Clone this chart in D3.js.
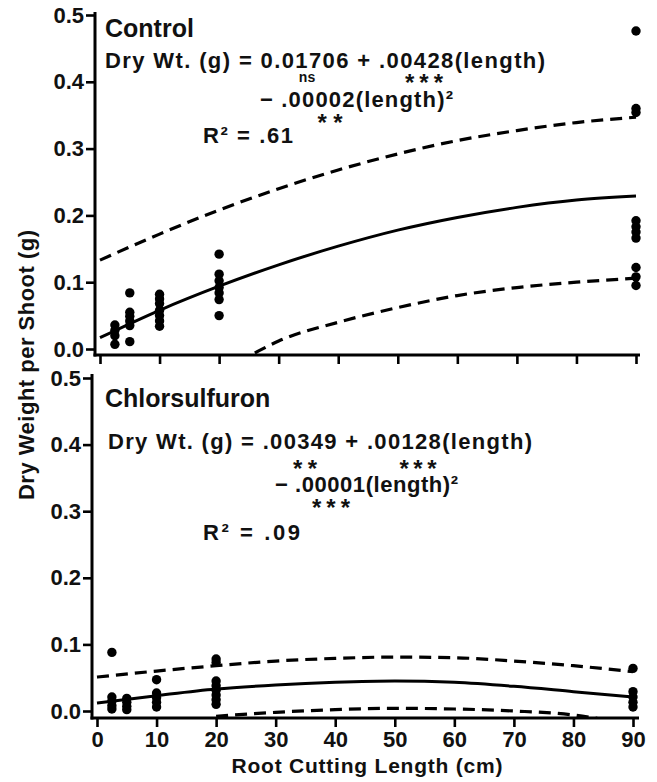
<!DOCTYPE html>
<html>
<head>
<meta charset="utf-8">
<script src="https://cdn.jsdelivr.net/npm/d3@7"></script>
<style>
  body { margin: 0; background: #fff; }
  text { font-family: "Liberation Sans", Arial, sans-serif; font-weight: bold; fill: #111; }
</style>
</head>
<body>
<script>
// root cutting lengths where shoots were weighed (cm)
const cuttingLengths = [2.5, 5, 10, 20, 90];

// dry weight per shoot (g), one array per cutting length
const controlWeights = [
    [0.036, 0.028, 0.020, 0.007],
    [0.084, 0.055, 0.049, 0.042, 0.035, 0.011],
    [0.082, 0.075, 0.068, 0.058, 0.050, 0.042, 0.034],
    [0.142, 0.112, 0.102, 0.092, 0.084, 0.074, 0.050],
    [0.476, 0.360, 0.354, 0.192, 0.183, 0.175, 0.166, 0.122, 0.108, 0.095]
];
const chlorWeights = [
    [0.088, 0.021, 0.015, 0.008, 0.003],
    [0.019, 0.013, 0.007, 0.002],
    [0.047, 0.027, 0.020, 0.013, 0.006],
    [0.078, 0.073, 0.045, 0.038, 0.031, 0.024, 0.017, 0.010],
    [0.064, 0.029, 0.021, 0.013, 0.006]
];

// fitted curve and confidence bands
const curveX = [0, 10, 20, 30, 40, 50, 60, 70, 80, 90];
const controlFit = [0.017, 0.058, 0.094, 0.126, 0.154, 0.178, 0.197, 0.212, 0.223, 0.229];
const controlUpper = [0.133, 0.172, 0.208, 0.240, 0.268, 0.292, 0.312, 0.327, 0.339, 0.347];
const controlLowerX = [26, 30, 40, 50, 60, 70, 80, 90];
const controlLower = [-0.006, 0.012, 0.040, 0.062, 0.080, 0.092, 0.100, 0.106];

const chlorFit = [0.012, 0.023, 0.033, 0.039, 0.043, 0.045, 0.043, 0.037, 0.029, 0.021];
const chlorUpper = [0.051, 0.060, 0.068, 0.075, 0.079, 0.081, 0.080, 0.075, 0.068, 0.059];
const chlorLowerX = [20, 30, 40, 50, 60, 70, 80, 84];
const chlorLower = [-0.008, -0.002, 0.002, 0.004, 0.003, 0.000, -0.006, -0.011];

const xTicks = [0, 10, 20, 30, 40, 50, 60, 70, 80, 90];
const yTicks = [0, 0.1, 0.2, 0.3, 0.4, 0.5];

const svg = d3.select("body").append("svg")
    .attr("width", 657)
    .attr("height", 782);

const panels = [
    {
        id: "control",
        x0: 100, x1: 636, yZero: 349, yTop: 15,
        axisX: 95, axisY: 355, axisTop: 12, axisRight: 640,
        weights: controlWeights, fit: controlFit, upper: controlUpper,
        lowerX: controlLowerX, lower: controlLower, showLabels: false,
        texts: [
            { t: "Control", x: 105, y: 37, size: 25 },
            { t: "Dry Wt. (g) = 0.01706 + .00428(length)", x: 105, y: 68, size: 22, len: 440 },
            { t: "ns", x: 307, y: 82, size: 14, anchor: "middle" },
            { t: "***", x: 424, y: 91, size: 24, anchor: "middle", len: 38 },
            { t: "\u2212 .00002(length)\u00b2", x: 260, y: 107, size: 22, len: 193 },
            { t: "**", x: 330, y: 131, size: 24, anchor: "middle", len: 25 },
            { t: "R\u00b2 = .61", x: 203, y: 143, size: 22, len: 90 }
        ]
    },
    {
        id: "chlor",
        x0: 97, x1: 633, yZero: 711, yTop: 378,
        axisX: 92, axisY: 718, axisTop: 374, axisRight: 639,
        weights: chlorWeights, fit: chlorFit, upper: chlorUpper,
        lowerX: chlorLowerX, lower: chlorLower, showLabels: true,
        texts: [
            { t: "Chlorsulfuron", x: 105, y: 407, size: 25 },
            { t: "Dry Wt. (g) = .00349 + .00128(length)", x: 108, y: 449, size: 22, len: 424 },
            { t: "**", x: 305, y: 477, size: 24, anchor: "middle", len: 24 },
            { t: "***", x: 418, y: 477, size: 24, anchor: "middle", len: 37 },
            { t: "\u2212 .00001(length)\u00b2", x: 275, y: 492, size: 22, len: 183 },
            { t: "***", x: 331, y: 516, size: 24, anchor: "middle", len: 38 },
            { t: "R\u00b2 = .09", x: 203, y: 540, size: 22, len: 97 }
        ]
    }
];

panels.forEach(p => {
    const x = d3.scaleLinear().domain([0, 90]).range([p.x0, p.x1]);
    const y = d3.scaleLinear().domain([0, 0.5]).range([p.yZero, p.yTop]);

    const g = svg.append("g");

    // clip so the bands stop at the axes
    g.append("clipPath").attr("id", "clip-" + p.id)
        .append("rect")
        .attr("x", p.axisX).attr("y", p.axisTop)
        .attr("width", 657 - p.axisX).attr("height", p.axisY - p.axisTop);

    const line = d3.line()
        .x(d => x(d[0]))
        .y(d => y(d[1]))
        .curve(d3.curveMonotoneX);

    const plot = g.append("g").attr("clip-path", `url(#clip-${p.id})`);

    plot.append("path")
        .datum(d3.zip(curveX, p.upper))
        .attr("d", line)
        .attr("fill", "none").attr("stroke", "#000")
        .attr("stroke-width", 3.2).attr("stroke-dasharray", "12,7");

    plot.append("path")
        .datum(d3.zip(p.lowerX, p.lower))
        .attr("d", line)
        .attr("fill", "none").attr("stroke", "#000")
        .attr("stroke-width", 3.2).attr("stroke-dasharray", "12,7");

    plot.append("path")
        .datum(d3.zip(curveX, p.fit))
        .attr("d", line)
        .attr("fill", "none").attr("stroke", "#000")
        .attr("stroke-width", 3);

    const dots = [];
    p.weights.forEach((arr, i) => arr.forEach(v => dots.push({ len: cuttingLengths[i], w: v })));

    g.selectAll("circle.dot")
        .data(dots)
        .join("circle")
        .attr("class", "dot")
        .attr("cx", d => x(d.len))
        .attr("cy", d => y(d.w))
        .attr("r", 4.7)
        .attr("fill", "#000");

    // axes
    const gy = g.append("g").attr("transform", `translate(${p.axisX},0)`)
        .call(d3.axisLeft(y).tickValues(yTicks).tickSize(9).tickSizeOuter(0)
            .tickFormat(d3.format(".1f")));
    const gx = g.append("g").attr("transform", `translate(0,${p.axisY})`)
        .call(d3.axisBottom(x).tickValues(xTicks).tickSize(9).tickSizeOuter(0)
            .tickFormat(p.showLabels ? d3.format("d") : ""));

    [gx, gy].forEach(a => {
        a.select(".domain").remove();
        a.selectAll(".tick line").attr("stroke", "#000").attr("stroke-width", 2.6);
        a.selectAll(".tick text")
            .attr("fill", "#111")
            .style("font-family", '"Liberation Sans", Arial, sans-serif')
            .style("font-weight", "bold");
    });
    gy.selectAll(".tick text").style("font-size", "22px").attr("x", -11);
    gx.selectAll(".tick text").style("font-size", "22px").attr("y", 13);

    g.append("line")
        .attr("x1", p.axisX).attr("x2", p.axisX)
        .attr("y1", p.axisTop).attr("y2", p.axisY + 1.5)
        .attr("stroke", "#000").attr("stroke-width", 3);
    g.append("line")
        .attr("x1", p.axisX - 1.5).attr("x2", p.axisRight)
        .attr("y1", p.axisY).attr("y2", p.axisY)
        .attr("stroke", "#000").attr("stroke-width", 3);

    // panel title, regression equation and significance marks
    p.texts.forEach(s => {
        const t = g.append("text")
            .attr("x", s.x).attr("y", s.y)
            .attr("text-anchor", s.anchor || "start")
            .style("font-size", s.size + "px")
            .text(s.t);
        if (s.len) t.attr("textLength", s.len).attr("lengthAdjust", "spacing");
    });
});

svg.append("text")
    .attr("transform", "translate(34,365) rotate(-90)")
    .attr("text-anchor", "middle")
    .attr("textLength", 270).attr("lengthAdjust", "spacing")
    .style("font-size", "22px")
    .text("Dry Weight per Shoot (g)");

svg.append("text")
    .attr("x", 367).attr("y", 773)
    .attr("text-anchor", "middle")
    .attr("textLength", 271).attr("lengthAdjust", "spacing")
    .style("font-size", "21px")
    .text("Root Cutting Length (cm)");
</script>
</body>
</html>
